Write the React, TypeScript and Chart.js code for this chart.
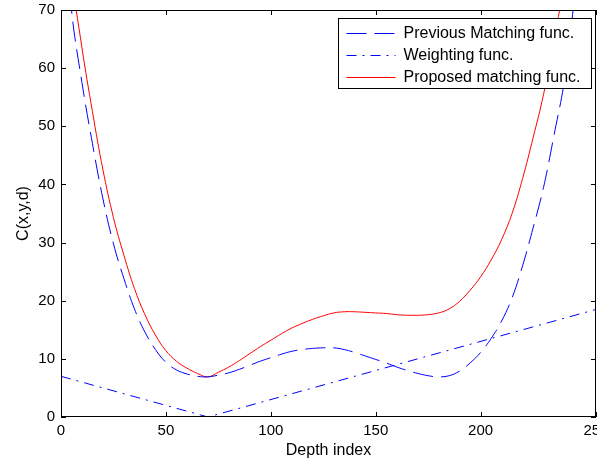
import { useEffect, useRef } from 'react';
import { Chart, registerables } from 'chart.js';

Chart.register(...registerables);

const depthIndex = [
  0, 5, 10, 15, 20, 25, 30, 35, 40, 45, 50, 55, 60, 65, 70, 75, 80, 85, 90, 95,
  100, 105, 110, 115, 120, 125, 130, 135, 140, 145, 150, 155, 160, 165, 170, 175,
  180, 185, 190, 195, 200, 205, 210, 215, 220, 225, 230, 235, 240, 245, 250,
];

const previousMatching = [
  92, 70, 57.5, 47, 37.5, 29.8, 23.8, 18.6, 14.6, 11.6, 9.4, 8.1, 7.4, 7.0, 6.9, 7.2, 7.6, 8.2, 8.9, 9.6,
  10.2, 10.8, 11.3, 11.6, 11.8, 11.9, 11.9, 11.6, 11.1, 10.5, 9.9, 9.3, 8.6, 8.0, 7.5, 7.1,
  6.9, 7.1, 7.9, 9.3, 11.1, 13.5, 16.5, 20.5, 26, 32.5, 39.5, 48.5, 58, 73, 90,
];

const proposedMatching = [
  99, 76.5, 63.5, 52.5, 42.5, 34.3, 27.8, 22.1, 17.6, 14.1, 11.4, 9.6, 8.4, 7.5, 6.9, 7.7, 8.6, 9.7, 10.9, 12.1,
  13.2, 14.3, 15.3, 16.1, 16.8, 17.4, 17.9, 18.1, 18.1, 18.0, 17.9, 17.8, 17.6, 17.5, 17.5, 17.6,
  17.9, 18.6, 19.9, 21.8, 24.1, 27, 30.5, 35, 41, 48, 55.5, 65, 75, 90.5, 108,
];

const weightingX = [0, 70, 255];
const weightingY = [7, 0, 18.5];

const seriesLabels = ['Previous Matching func.', 'Weighting func.', 'Proposed matching func.'];
const xAxisTitle = 'Depth index';
const yAxisTitle = 'C(x,y,d)';

const FONT = '"Liberation Sans", Arial, Helvetica, sans-serif';

const framePlugin = {
  id: 'matlabFrame',
  afterDatasetsDraw(chart: any) {
    const { ctx, chartArea: a, scales } = chart;
    ctx.save();
    ctx.strokeStyle = '#000';
    ctx.lineWidth = 1;
    ctx.setLineDash([]);
    ctx.strokeRect(Math.round(a.left) + 0.5, Math.round(a.top) + 0.5, Math.round(a.right - a.left) - 1, Math.round(a.bottom - a.top) - 1);
    const tl = 5;
    ctx.beginPath();
    scales.x.ticks.forEach((t: any) => {
      const px = Math.round(scales.x.getPixelForValue(t.value)) + 0.5;
      ctx.moveTo(px, a.bottom);
      ctx.lineTo(px, a.bottom - tl);
      ctx.moveTo(px, a.top);
      ctx.lineTo(px, a.top + tl);
    });
    scales.y.ticks.forEach((t: any) => {
      const py = Math.round(scales.y.getPixelForValue(t.value)) + 0.5;
      ctx.moveTo(a.left, py);
      ctx.lineTo(a.left + tl, py);
      ctx.moveTo(a.right, py);
      ctx.lineTo(a.right - tl, py);
    });
    ctx.stroke();
    ctx.restore();
  },
};

const legendPlugin = {
  id: 'insideLegend',
  afterDraw(chart: any) {
    const { ctx, chartArea: a } = chart;
    const w = 253;
    const h = 70;
    const x0 = Math.round(a.right - 5 - w) + 0.5;
    const y0 = Math.round(a.top + 8) + 0.5;
    ctx.save();
    ctx.fillStyle = '#fff';
    ctx.fillRect(x0, y0, w, h);
    ctx.strokeStyle = '#000';
    ctx.lineWidth = 1;
    ctx.setLineDash([]);
    ctx.strokeRect(x0, y0, w, h);
    ctx.font = `16px ${FONT}`;
    ctx.textBaseline = 'middle';
    ctx.textAlign = 'left';
    chart.data.datasets.forEach((ds: any, i: number) => {
      const yy = Math.round(y0 + 14 + i * 22) + 0.5;
      ctx.strokeStyle = ds.borderColor;
      ctx.lineWidth = ds.borderWidth;
      ctx.setLineDash(ds.borderDash || []);
      ctx.beginPath();
      ctx.moveTo(x0 + 8, yy);
      ctx.lineTo(x0 + 57, yy);
      ctx.stroke();
      ctx.fillStyle = '#000';
      ctx.fillText(ds.label, x0 + 65, yy);
    });
    ctx.restore();
  },
};

export default function App() {
  const ref = useRef<HTMLCanvasElement>(null);

  useEffect(() => {
    document.body.style.margin = '0';
    const toPts = (xs: number[], ys: number[]) => xs.map((x, i) => ({ x, y: ys[i] }));
    const chart = new Chart(ref.current as HTMLCanvasElement, {
      type: 'line',
      data: {
        datasets: [
          {
            label: seriesLabels[0],
            data: toPts(depthIndex, previousMatching),
            borderColor: '#0000ff',
            borderWidth: 1,
            borderDash: [20, 8],
            pointRadius: 0,
            tension: 0.4,
            fill: false,
          },
          {
            label: seriesLabels[1],
            data: toPts(weightingX, weightingY),
            borderColor: '#0000ff',
            borderWidth: 1,
            borderDash: [10, 6, 2, 6],
            pointRadius: 0,
            tension: 0,
            fill: false,
          },
          {
            label: seriesLabels[2],
            data: toPts(depthIndex, proposedMatching),
            borderColor: '#ff0000',
            borderWidth: 1,
            pointRadius: 0,
            tension: 0.4,
            fill: false,
          },
        ],
      },
      options: {
        responsive: false,
        animation: false,
        devicePixelRatio: 1,
        layout: { padding: { top: 10, right: 1, left: 0, bottom: 0 } },
        plugins: { legend: { display: false }, tooltip: { enabled: false } },
        scales: {
          x: {
            type: 'linear',
            min: 0,
            max: 255,
            grid: { display: false, drawTicks: false },
            border: { display: false },
            ticks: { stepSize: 50, padding: 5, color: '#000', font: { family: FONT, size: 15 }, maxRotation: 0 },
            title: { display: true, text: xAxisTitle, color: '#000', font: { family: FONT, size: 16 }, padding: { top: 0, bottom: 1 } },
            afterFit: (s: any) => {
              s.height = 44;
              s.paddingLeft = 0;
              s.paddingRight = 0;
            },
          },
          y: {
            type: 'linear',
            min: 0,
            max: 70,
            grid: { display: false, drawTicks: false },
            border: { display: false },
            ticks: { stepSize: 10, padding: 6, color: '#000', font: { family: FONT, size: 15 } },
            title: { display: true, text: yAxisTitle, color: '#000', font: { family: FONT, size: 16 }, padding: { top: 14, bottom: 0 } },
            afterFit: (s: any) => {
              s.width = 61;
              s.paddingTop = 0;
              s.paddingBottom = 0;
            },
          },
        },
      },
      plugins: [framePlugin, legendPlugin],
    } as any);
    return () => chart.destroy();
  }, []);

  return (
    <div style={{ width: 597, height: 461 }}>
      <canvas ref={ref} width={597} height={461} style={{ display: 'block' }} />
    </div>
  );
}
